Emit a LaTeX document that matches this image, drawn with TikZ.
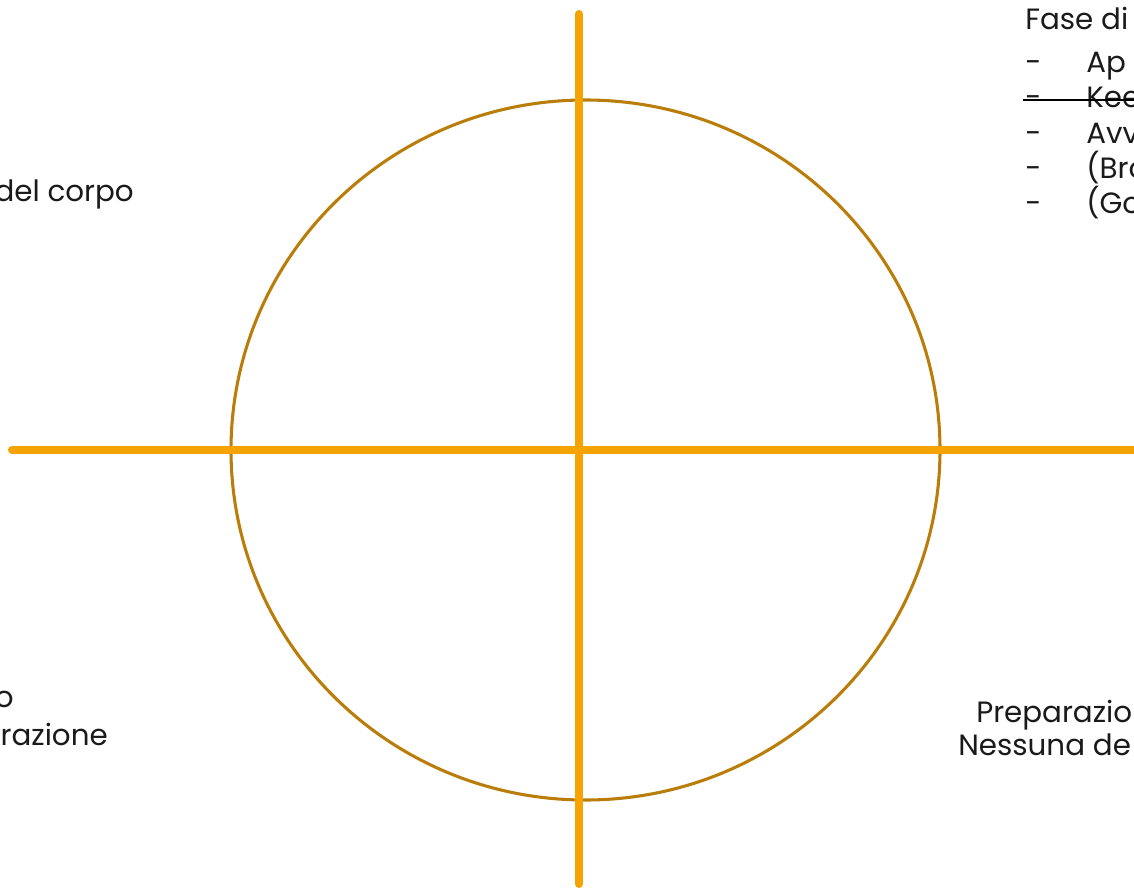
\documentclass[tikz,border=0pt]{standalone}
\usepackage{fontspec}
\usetikzlibrary{shapes.geometric}
\setmainfont{Poppins}
\definecolor{axisor}{HTML}{F5A300}
\definecolor{ringbr}{HTML}{BA7D0A}
\definecolor{txt}{HTML}{1A1A1A}
\begin{document}
\begin{tikzpicture}[x=0.75pt,y=-0.75pt,
  lbl/.style={inner sep=0pt,text=txt,font=\fontsize{22pt}{26pt}\selectfont},
  axisline/.style={draw=axisor,line width=6pt,line cap=round},
  ring/.style={draw=ringbr,line width=2.3pt}]
\useasboundingbox (0,0) rectangle (1134,888);
\clip (0,0) rectangle (1134,888);
\fill[white] (0,0) rectangle (1134,888);
% ring
\node[ring,ellipse,minimum width=709*0.75pt,minimum height=700*0.75pt,inner sep=0pt] (c) at (585.5,450) {};
% axes
\coordinate (vt) at (579,14);
\coordinate (vb) at (579,884);
\coordinate (hl) at (12,450);
\coordinate (hr) at (1150,450);
\draw[axisline] (vt) -- (vb);
\draw[axisline] (hl) -- (hr);
% top right list
\node[lbl,anchor=base west] (t0) at (1025,30) {Fase di};
\node[lbl,anchor=base west] (d1) at (1025,73) {-};
\node[lbl,anchor=base west] (t1) at (1086,73) {Ap};
\node[lbl,anchor=base west] (d2) at (1025,108) {-};
\node[lbl,anchor=base west] (t2) at (1086,108) {Kee};
\node[lbl,anchor=base west] (d3) at (1025,143) {-};
\node[lbl,anchor=base west] (t3) at (1086,143) {Avv};
\node[lbl,anchor=base west] (d4) at (1025,178) {-};
\node[lbl,anchor=base west] (t4) at (1086,178) {(Bro};
\node[lbl,anchor=base west] (d5) at (1025,213) {-};
\node[lbl,anchor=base west] (t5) at (1086,213) {(Go};
\coordinate (s1) at (1023,100);
\coordinate (s2) at (1134,100);
\draw[black,line width=1.9pt] (s1) -- (s2);
% left texts
\node[lbl,anchor=base east] (l1) at (134,201) {del corpo};
\node[lbl,anchor=base east] (l2) at (14,707) {o};
\node[lbl,anchor=base east] (l3) at (108,745) {razione};
% right bottom texts
\node[lbl,anchor=base west] (r1) at (976,722) {Preparazio};
\node[lbl,anchor=base west] (r2) at (958,755) {Nessuna de};
\end{tikzpicture}
\end{document}
